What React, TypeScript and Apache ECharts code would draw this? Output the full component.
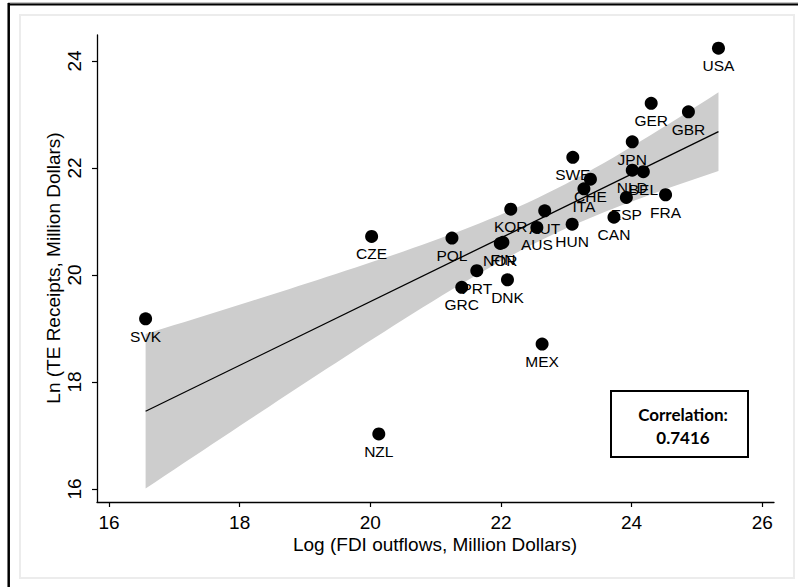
import { useEffect, useRef } from "react";
import * as echarts from "echarts";

const countries = ["USA", "GER", "GBR", "JPN", "SWE", "CHE", "ITA", "NLD", "BEL", "ESP", "FRA", "CAN", "HUN", "AUT", "KOR", "AUS", "FIN", "NOR", "POL", "PRT", "GRC", "DNK", "CZE", "MEX", "SVK", "NZL"];
const fdiOutflows = [25.33, 24.30, 24.87, 24.01, 23.10, 23.37, 23.27, 24.01, 24.18, 23.92, 24.52, 23.73, 23.09, 22.67, 22.15, 22.55, 22.03, 21.99, 21.25, 21.63, 21.40, 22.10, 20.02, 22.63, 16.56, 20.13];
const teReceipts = [24.24, 23.21, 23.05, 22.49, 22.20, 21.79, 21.61, 21.96, 21.93, 21.45, 21.50, 21.08, 20.95, 21.20, 21.23, 20.89, 20.61, 20.59, 20.69, 20.08, 19.77, 19.91, 20.72, 18.71, 19.18, 17.03];
const xTicks = [16, 18, 20, 22, 24, 26];
const yTicks = [16, 18, 20, 22, 24];
const xTitle = "Log (FDI outflows, Million Dollars)";
const yTitle = "Ln (TE Receipts, Million Dollars)";
const correlationLabel = "Correlation:";
const correlationValue = "0.7416";

const FONT = "'Liberation Sans', Arial, sans-serif";

function fit() {
  const n = fdiOutflows.length;
  const mx = fdiOutflows.reduce((a, b) => a + b, 0) / n;
  const my = teReceipts.reduce((a, b) => a + b, 0) / n;
  let sxx = 0, sxy = 0;
  for (let i = 0; i < n; i++) {
    sxx += (fdiOutflows[i] - mx) ** 2;
    sxy += (fdiOutflows[i] - mx) * (teReceipts[i] - my);
  }
  const b = sxy / sxx;
  const a = my - b * mx;
  let sse = 0;
  for (let i = 0; i < n; i++) sse += (teReceipts[i] - a - b * fdiOutflows[i]) ** 2;
  const s = Math.sqrt(sse / (n - 2));
  const t = 2.064;
  const x0 = Math.min(...fdiOutflows);
  const x1 = Math.max(...fdiOutflows);
  const steps = 60;
  const upper: number[][] = [];
  const lower: number[][] = [];
  for (let k = 0; k <= steps; k++) {
    const x = x0 + ((x1 - x0) * k) / steps;
    const yh = a + b * x;
    const se = s * Math.sqrt(1 / n + (x - mx) ** 2 / sxx);
    upper.push([x, yh + t * se]);
    lower.push([x, yh - t * se]);
  }
  return { line: [[x0, a + b * x0], [x1, a + b * x1]], upper, lower };
}

export default function App() {
  const ref = useRef<HTMLDivElement>(null);
  useEffect(() => {
    if (!ref.current) return;
    const chart = echarts.init(ref.current, null, { renderer: "svg" });
    const f = fit();
    const points = countries.map((c, i) => ({ name: c, value: [fdiOutflows[i], teReceipts[i]] }));
    chart.setOption({
      animation: false,
      backgroundColor: "#ffffff",
      textStyle: { fontFamily: FONT },
      grid: { left: 97, top: 35, width: 677, height: 467 },
      xAxis: {
        type: "value",
        min: 15.816,
        max: 26.18,
        splitLine: { show: false },
        axisLine: { show: true, onZero: false, lineStyle: { color: "#000", width: 1.3 } },
        axisTick: { show: true, length: 5, customValues: xTicks, lineStyle: { color: "#000", width: 1.2 } },
        axisLabel: { customValues: xTicks, fontSize: 19, color: "#000", margin: 11, fontFamily: FONT },
      },
      yAxis: {
        type: "value",
        min: 15.757,
        max: 24.486,
        splitLine: { show: false },
        axisLine: { show: true, onZero: false, lineStyle: { color: "#000", width: 1.3 } },
        axisTick: { show: true, length: 5, customValues: yTicks, lineStyle: { color: "#000", width: 1.2 } },
        axisLabel: { customValues: yTicks, rotate: 90, fontSize: 19, color: "#000", margin: 13, fontFamily: FONT },
      },
      series: [
        {
          type: "custom",
          silent: true,
          z: 1,
          data: [f.upper[0]],
          renderItem: (_p: any, api: any) => {
            const pts = [
              ...f.upper.map((p) => api.coord(p)),
              ...f.lower.slice().reverse().map((p) => api.coord(p)),
            ];
            return { type: "polygon", shape: { points: pts }, style: { fill: "#cdcdcd" } };
          },
        },
        {
          type: "line",
          silent: true,
          z: 2,
          symbol: "none",
          data: f.line,
          lineStyle: { color: "#000", width: 1.3 },
        },
        {
          type: "scatter",
          z: 3,
          symbolSize: 13,
          itemStyle: { color: "#000", opacity: 1 },
          data: points,
          label: {
            show: true,
            position: "bottom",
            distance: 3,
            formatter: "{b}",
            fontSize: 15.5,
            color: "#000",
            fontFamily: FONT,
          },
        },
      ],
      graphic: [
        { type: "rect", silent: true, shape: { x: 20, y: 15, width: 774, height: 563 }, style: { fill: "none", stroke: "#ececec", lineWidth: 2 } },
        { type: "line", silent: true, shape: { x1: 8, y1: 3, x2: 798, y2: 3 }, style: { stroke: "#888", lineWidth: 1 } },
        { type: "line", silent: true, shape: { x1: 8, y1: 4.5, x2: 798, y2: 4.5 }, style: { stroke: "#000", lineWidth: 2 } },
        { type: "line", silent: true, shape: { x1: 8.7, y1: 3, x2: 8.7, y2: 587 }, style: { stroke: "#000", lineWidth: 2.5 } },
        {
          type: "text",
          silent: true,
          x: 53,
          y: 268,
          rotation: Math.PI / 2,
          style: { text: yTitle, font: `19px ${FONT}`, fill: "#000", textAlign: "center", textVerticalAlign: "middle" },
        },
        {
          type: "text",
          silent: true,
          x: 435,
          y: 544,
          style: { text: xTitle, font: `19px ${FONT}`, fill: "#000", textAlign: "center", textVerticalAlign: "middle" },
        },
        { type: "rect", silent: true, shape: { x: 611, y: 391, width: 137, height: 66 }, style: { fill: "#fff", stroke: "#000", lineWidth: 2 } },
        {
          type: "text",
          silent: true,
          x: 683,
          y: 414,
          style: { text: correlationLabel, font: `bold 17px Lato, 'Open Sans', sans-serif`, fill: "#000", textAlign: "center", textVerticalAlign: "middle" },
        },
        {
          type: "text",
          silent: true,
          x: 683,
          y: 437,
          style: { text: correlationValue, font: `bold 17px Lato, 'Open Sans', sans-serif`, fill: "#000", textAlign: "center", textVerticalAlign: "middle" },
        },
      ],
    });
    return () => chart.dispose();
  }, []);
  return <div ref={ref} style={{ position: "absolute", left: 0, top: 0, width: 798, height: 587 }} />;
}
